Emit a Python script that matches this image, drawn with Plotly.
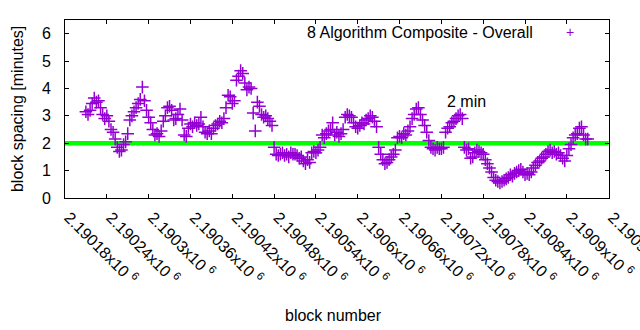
import plotly.graph_objects as go

# ---- data ----
first_block = 2190210
block_step = 3
spacing_minutes = [
    3.15, 3.05, 3.2, 3.45, 3.65, 3.5, 3.55, 3.3, 3.05, 2.9,
    3.0, 2.8, 2.5, 2.4, 2.15, 1.85, 1.7, 1.75, 1.95, 2.05,
    2.35, 2.85, 3.0, 3.15, 3.3, 3.45, 3.6, 4.05, 3.55, 3.2,
    2.95, 2.75, 2.5, 2.3, 2.35, 2.25, 2.45, 2.8, 3.0, 3.3,
    3.35, 3.2, 2.85, 2.9, 3.05, 3.25, 2.85, 2.3, 2.25, 2.55,
    2.7, 2.6, 2.75, 2.65, 2.7, 2.95, 2.6, 2.4, 2.35, 2.45,
    2.35, 2.55, 2.65, 2.7, 2.8, 2.75, 2.9, 3.3, 3.75, 3.7,
    3.45, 3.55, 4.3, 4.45, 4.65, 4.55, 4.2, 3.95, 4.05, 4.0,
    3.1, 2.45, 3.5, 3.35, 3.05, 2.95, 3.0, 2.9, 2.8, 2.65,
    1.85, 1.6, 1.55, 1.6, 1.65, 1.55, 1.6, 1.5, 1.65, 1.6,
    1.6, 1.55, 1.45, 1.5, 1.35, 1.25, 1.4, 1.3, 1.65, 1.7,
    1.65, 1.75, 1.85, 2.3, 2.2, 2.35, 2.45, 2.5, 2.75, 2.3,
    2.4, 2.25, 2.35, 2.5, 2.95, 3.05, 3.0, 2.95, 2.75, 2.6,
    2.55, 2.65, 2.75, 2.7, 2.85, 2.9, 3.0, 2.95, 2.8, 2.6,
    1.85, 1.6, 1.4, 1.25, 1.3, 1.4, 1.5, 1.6, 1.75, 2.2,
    2.25, 2.2, 2.35, 2.3, 2.45, 2.6, 2.9, 3.05, 3.25, 3.3,
    3.05, 2.85, 2.65, 2.4, 2.1, 1.85, 1.8, 1.75, 1.85, 1.8,
    1.8, 1.85, 2.4, 2.55, 2.6, 2.75, 2.8, 2.9, 3.0, 3.05,
    2.9, 1.85, 1.75, 1.8, 1.45, 1.5, 1.65, 1.75, 1.7, 1.65,
    1.6, 1.4, 1.25, 1.1, 0.95, 0.75, 0.65, 0.6, 0.55, 0.6,
    0.65, 0.7, 0.75, 0.85, 0.8, 0.9, 0.95, 1.0, 1.05, 0.95,
    0.85, 0.9, 0.85, 0.95, 1.1, 1.2, 1.3, 1.35, 1.45, 1.5,
    1.6, 1.7, 1.75, 1.65, 1.7, 1.6, 1.65, 1.55, 1.45, 1.35,
    1.55, 1.8, 1.95, 2.2, 2.3, 2.35, 2.55, 2.6, 2.3, 2.15, 2.15,
]
blocks = [first_block + block_step * i for i in range(len(spacing_minutes))]

target_minutes = 2
x_min, x_max = 2190180, 2190960
tick_vals = [2190180, 2190240, 2190300, 2190360, 2190420, 2190480, 2190540,
             2190600, 2190660, 2190720, 2190780, 2190840, 2190900, 2190960]
tick_text = ["2.19018", "2.19024", "2.1903", "2.19036", "2.19042", "2.19048",
             "2.19054", "2.1906", "2.19066", "2.19072", "2.19078", "2.19084",
             "2.1909", "2.19096"]
series_name = "8 Algorithm Composite - Overall"

FONT = "Liberation Sans, Arial, sans-serif"
VIOLET = "#9400d3"

fig = go.Figure()
fig.add_trace(go.Scatter(
    x=[x_min, x_max], y=[target_minutes, target_minutes], mode="lines",
    line=dict(color="#00ff00", width=4.5), showlegend=False, hoverinfo="skip"))
fig.add_trace(go.Scatter(
    x=blocks, y=spacing_minutes, mode="markers", name=series_name,
    marker=dict(symbol="cross-thin", size=9, line=dict(color=VIOLET, width=1.5)),
    showlegend=False))

axis_common = dict(showline=True, linecolor="black", linewidth=1, mirror="ticks",
                   ticks="inside", ticklen=4, tickcolor="black", showgrid=False,
                   zeroline=False, tickfont=dict(family=FONT, size=16, color="black"))

fig.update_xaxes(range=[x_min, x_max + 0.5], tickmode="array", tickvals=tick_vals,
                 ticktext=[t + "x10&nbsp;<sup>6</sup>" for t in tick_text],
                 tickangle=45, automargin=False, ticklabeloverflow="allow",
                 ticklabelshift=4, ticklabelstandoff=3, **axis_common)
fig.update_yaxes(range=[0, 6.5], tickmode="array", tickvals=[0, 1, 2, 3, 4, 5, 6],
                 automargin=False, ticklabelstandoff=10, **axis_common)

fig.update_layout(
    width=640, height=330,
    margin=dict(l=65, r=30.5, t=19.5, b=132, pad=0),
    plot_bgcolor="white", paper_bgcolor="white",
    font=dict(family=FONT, size=16, color="black"),
    showlegend=False,
    annotations=[
        dict(text=series_name, xref="paper", yref="paper",
             x=(535 - 65) / 544.5, y=(198 - 32) / 178.5,
             xanchor="right", yanchor="middle", showarrow=False,
             font=dict(family=FONT, size=16, color="black")),
        dict(text="+", xref="paper", yref="paper",
             x=(570 - 65) / 544.5, y=(198 - 32) / 178.5,
             xanchor="center", yanchor="middle", showarrow=False,
             font=dict(family=FONT, size=14, color=VIOLET)),
        dict(text="2 min", xref="x", yref="y", x=2190725, y=3.53,
             xanchor="left", yanchor="middle", showarrow=False,
             font=dict(family=FONT, size=16, color="black")),
        dict(text="block spacing [minutes]", xref="paper", yref="paper",
             x=(17 - 65) / 544.5, y=0.5, textangle=-90,
             xanchor="center", yanchor="middle", showarrow=False,
             font=dict(family=FONT, size=16, color="black")),
        dict(text="block number", xref="paper", yref="paper",
             x=(334 - 65) / 544.5, y=(198 - 316) / 178.5,
             xanchor="center", yanchor="middle", showarrow=False,
             font=dict(family=FONT, size=16, color="black")),
    ],
)

fig.write_html("out.html")
